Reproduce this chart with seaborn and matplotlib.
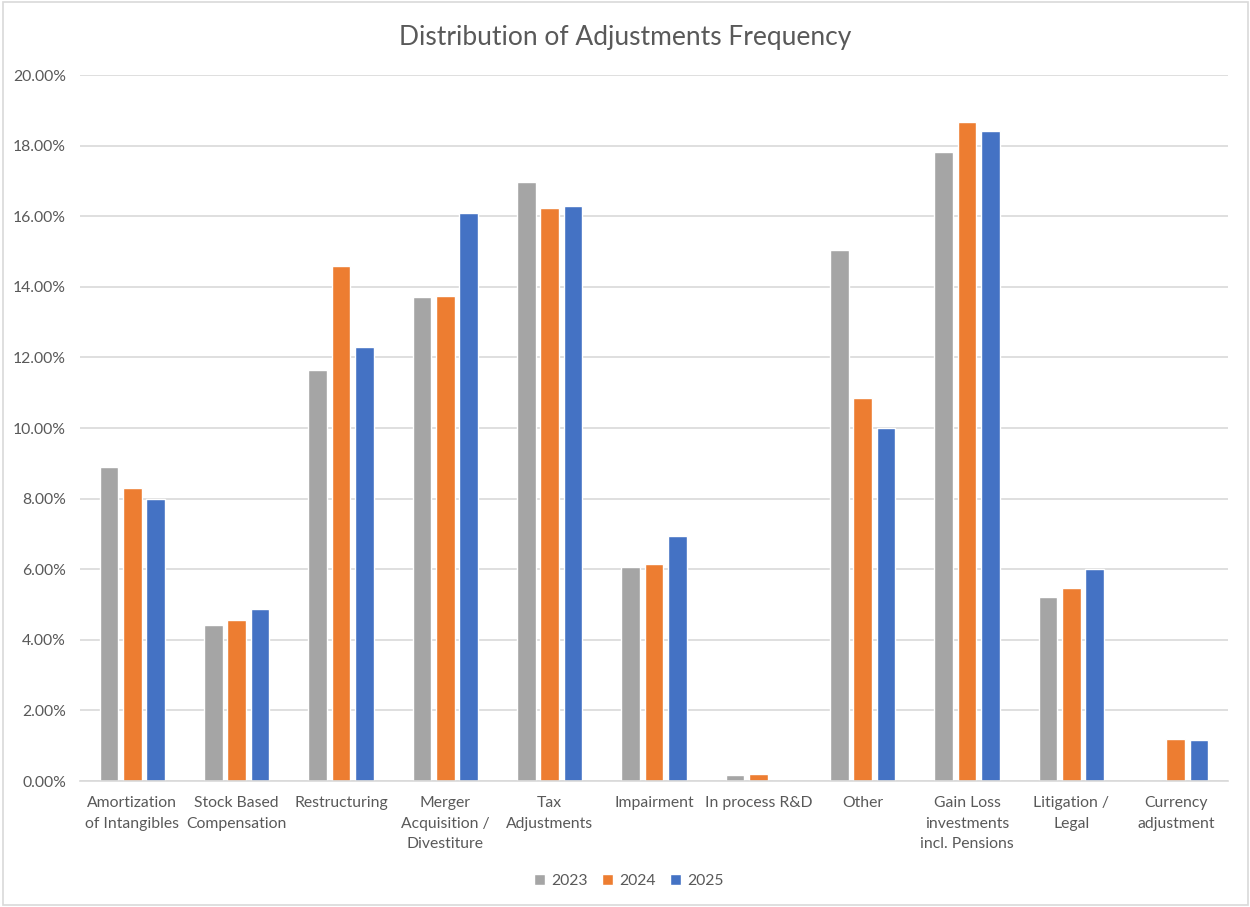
import matplotlib
matplotlib.use("Agg")
import matplotlib.pyplot as plt
from matplotlib.patches import Rectangle
from matplotlib.ticker import FuncFormatter, MultipleLocator
import seaborn as sns
import pandas as pd

categories = [
    "Amortization\nof Intangibles",
    "Stock Based\nCompensation",
    "Restructuring",
    "Merger\nAcquisition /\nDivestiture",
    "Tax\nAdjustments",
    "Impairment",
    "In process R&D",
    "Other",
    "Gain Loss\ninvestments\nincl. Pensions",
    "Litigation /\nLegal",
    "Currency\nadjustment",
]
years = ["2023", "2024", "2025"]
share_2023 = [0.0890, 0.0442, 0.1164, 0.1371, 0.1697, 0.0606, 0.0018, 0.1504, 0.1782, 0.0521, 0.0]
share_2024 = [0.0830, 0.0457, 0.1459, 0.1374, 0.1623, 0.0615, 0.0021, 0.1085, 0.1867, 0.0547, 0.0118]
share_2025 = [0.0799, 0.0487, 0.1229, 0.1609, 0.1629, 0.0694, 0.0, 0.1000, 0.1841, 0.0600, 0.0115]
palette = {"2023": "#A5A5A5", "2024": "#ED7D31", "2025": "#4472C4"}

df = pd.DataFrame({
    "category": categories * 3,
    "year": [y for y in years for _ in categories],
    "share": share_2023 + share_2024 + share_2025,
})

sns.set_theme(style="white")
plt.rcParams["font.family"] = ["Lato", "DejaVu Sans"]

fig = plt.figure(figsize=(12.5, 9.07), dpi=100)
ax = fig.add_axes([0.064, 0.1389, 0.9184, 0.7784])

sns.barplot(data=df, x="category", y="share", hue="year", order=categories,
            hue_order=years, palette=palette, width=0.67, gap=0.2,
            saturation=1, ax=ax, legend=True)

ax.set_ylim(0, 0.20)
ax.set_xlim(-0.5, len(categories) - 0.5)
ax.yaxis.set_major_locator(MultipleLocator(0.02))
ax.yaxis.set_major_formatter(FuncFormatter(lambda v, _: f"{v * 100:.2f}%"))
ax.grid(axis="y", color="#D9D9D9", linewidth=1.2)
ax.set_axisbelow(True)
for side in ["left", "right", "top"]:
    ax.spines[side].set_visible(False)
ax.spines["bottom"].set_color("#D9D9D9")
ax.spines["bottom"].set_linewidth(1.2)
ax.tick_params(axis="both", length=0, colors="#595959", labelsize=11.3)
ax.tick_params(axis="x", pad=11)
ax.tick_params(axis="y", pad=10)
for lbl in ax.get_xticklabels():
    lbl.set_linespacing(1.58)
ax.set_xlabel("")
ax.set_ylabel("")

fig.text(0.5, 0.959, "Distribution of Adjustments Frequency", ha="center",
         va="center", fontsize=19, color="#595959")

handles, labels = ax.get_legend_handles_labels()
ax.legend_.remove()
fig.legend(handles, labels, loc="center", bbox_to_anchor=(0.503, 0.029),
           ncol=3, frameon=False, fontsize=11.3, handlelength=0.7,
           handleheight=0.7, handletextpad=0.4, columnspacing=0.9,
           labelcolor="#595959")

fig.patches.append(Rectangle((0.002, 0.002), 0.996, 0.996, transform=fig.transFigure,
                             fill=False, edgecolor="#D9D9D9", linewidth=1.2))

fig.savefig("out.png", dpi=100, facecolor="white")
